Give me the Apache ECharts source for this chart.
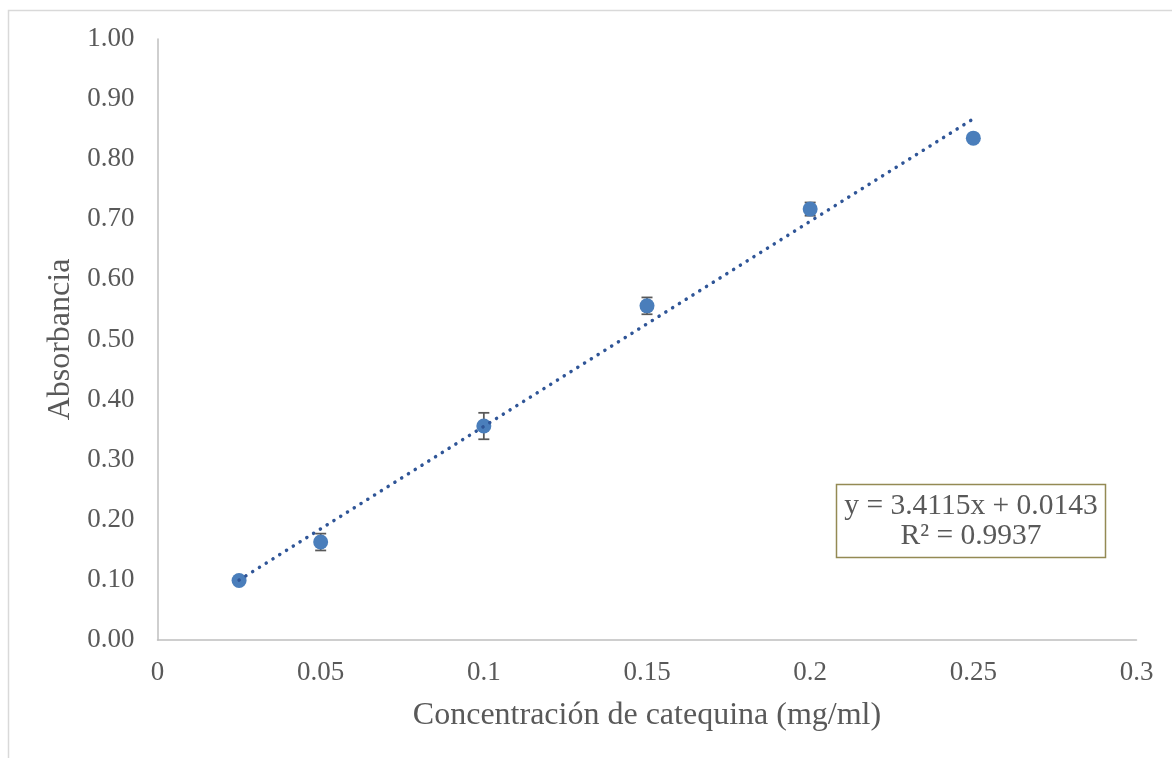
<!DOCTYPE html>
<html>
<head>
<meta charset="utf-8">
<script src="https://cdn.jsdelivr.net/npm/echarts@6/dist/echarts.min.js"></script>
<style>
html,body{margin:0;padding:0;background:#fff;}
#chart{width:1172px;height:758px;}
</style>
</head>
<body>
<div id="chart"></div>
<script>
// Data
const concentrations = [0.025, 0.05, 0.1, 0.15, 0.2, 0.25];
const absorbance = [0.099, 0.163, 0.356, 0.556, 0.717, 0.835];
const errors = [0.0, 0.014, 0.022, 0.014, 0.011, 0.0];
const trendX = [0.025, 0.25];
const trendY = [0.0996, 0.8672];
const xTickLabels = ['0', '0.05', '0.1', '0.15', '0.2', '0.25', '0.3'];
const yTickLabels = ['0.00','0.10','0.20','0.30','0.40','0.50','0.60','0.70','0.80','0.90','1.00'];
const equationText = ['y = 3.4115x + 0.0143', 'R² = 0.9937'];

const FONT = '"Liberation Serif", "Times New Roman", serif';
const TXT = '#595959';

const points = concentrations.map((x, i) => [x, absorbance[i]]);
const errData = concentrations.map((x, i) => [x, absorbance[i], errors[i]]);
const trend = trendX.map((x, i) => [x, trendY[i]]);

const chart = echarts.init(document.getElementById('chart'));
chart.setOption({
  animation: false,
  backgroundColor: '#fff',
  grid: {left: 157.5, right: 35.5, top: 39, bottom: 118},
  xAxis: {
    type: 'value', min: 0, max: 0.3, interval: 0.05,
    name: 'Concentración de catequina (mg/ml)',
    nameLocation: 'middle', nameGap: 76,
    nameTextStyle: {fontFamily: FONT, fontSize: 32, color: TXT, verticalAlign: 'middle'},
    axisLine: {show: true, lineStyle: {color: '#bfbfbf', width: 1.5}},
    axisTick: {show: false},
    splitLine: {show: false},
    axisLabel: {
      fontFamily: FONT, fontSize: 27, color: TXT, margin: 19,
      formatter: v => xTickLabels[Math.round(v / 0.05)]
    }
  },
  yAxis: {
    type: 'value', min: 0, max: 1, interval: 0.1,
    name: 'Absorbancia',
    nameLocation: 'middle', nameGap: 95,
    nameTextStyle: {fontFamily: FONT, fontSize: 32, color: TXT, verticalAlign: 'middle'},
    axisLine: {show: true, lineStyle: {color: '#bfbfbf', width: 1.5}},
    axisTick: {show: false},
    splitLine: {show: false},
    axisLabel: {
      fontFamily: FONT, fontSize: 27, color: TXT, margin: 23,
      formatter: v => yTickLabels[Math.round(v / 0.1)]
    }
  },
  series: [
    {
      type: 'custom',
      z: 1,
      data: errData,
      renderItem: function (params, api) {
        const x = api.value(0), y = api.value(1), e = api.value(2);
        if (!(e > 0)) return null;
        const top = api.coord([x, y + e]);
        const bot = api.coord([x, y - e]);
        const hw = 5.5;
        const style = {stroke: '#595959', lineWidth: 1.75};
        return {
          type: 'group',
          children: [
            {type: 'line', shape: {x1: top[0], y1: top[1], x2: bot[0], y2: bot[1]}, style: style},
            {type: 'line', shape: {x1: top[0] - hw, y1: top[1], x2: top[0] + hw, y2: top[1]}, style: style},
            {type: 'line', shape: {x1: bot[0] - hw, y1: bot[1], x2: bot[0] + hw, y2: bot[1]}, style: style}
          ]
        };
      }
    },
    {
      type: 'scatter',
      z: 2,
      data: points,
      symbol: 'circle',
      symbolSize: 15,
      itemStyle: {color: '#4a7ebb', opacity: 1}
    },
    {
      type: 'line',
      z: 3,
      data: trend,
      symbol: 'none',
      silent: true,
      lineStyle: {color: '#2f5597', width: 3.5, type: [0.1, 7.9], cap: 'round'}
    }
  ],
  graphic: [
    {
      type: 'rect', silent: true, z: 0,
      shape: {x: 8.5, y: 10.5, width: 1400, height: 1000},
      style: {fill: 'none', stroke: '#d9d9d9', lineWidth: 1.5}
    },
    {
      type: 'rect', silent: true, z: 10,
      shape: {x: 836.5, y: 484.5, width: 269, height: 73},
      style: {fill: '#fff', stroke: '#948a54', lineWidth: 1.5}
    },
    {
      type: 'text', silent: true, z: 11,
      x: 971, y: 506,
      style: {text: equationText[0], fontFamily: FONT, fontSize: 29.5, fill: TXT, align: 'center', verticalAlign: 'middle'}
    },
    {
      type: 'text', silent: true, z: 11,
      x: 971, y: 536,
      style: {text: equationText[1], fontFamily: FONT, fontSize: 29.5, fill: TXT, align: 'center', verticalAlign: 'middle'}
    }
  ]
});
</script>
</body>
</html>
